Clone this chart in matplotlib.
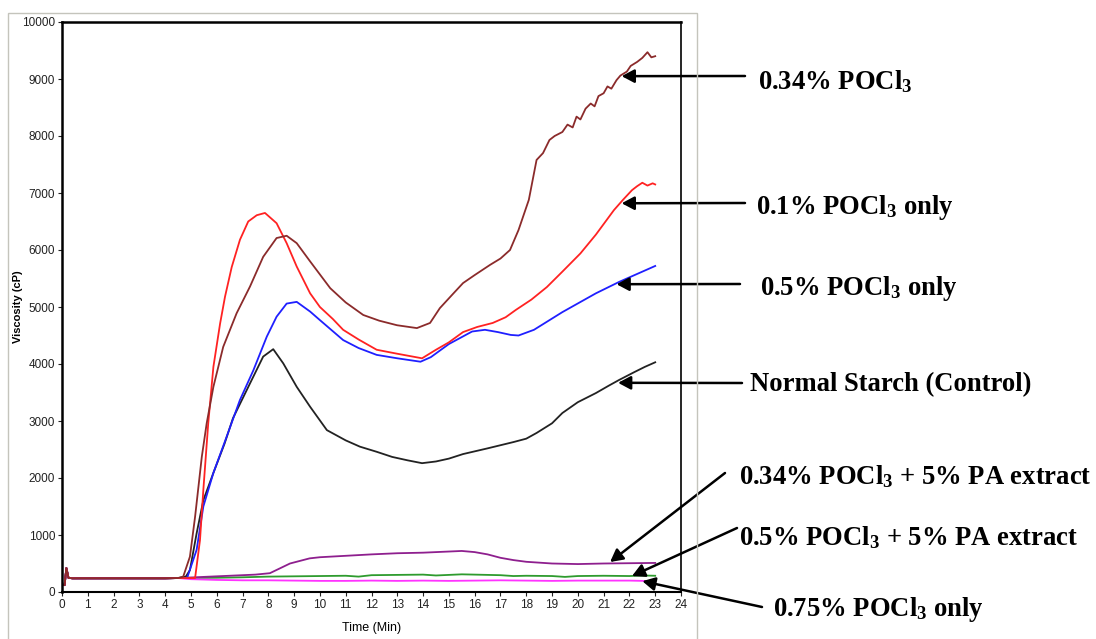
import matplotlib
matplotlib.use("Agg")
import matplotlib.pyplot as plt
from matplotlib.patches import Rectangle

plt.rcParams["mathtext.fontset"] = "custom"
plt.rcParams["mathtext.rm"] = "Liberation Serif:bold"
plt.rcParams["mathtext.it"] = "Liberation Serif:bold"
plt.rcParams["mathtext.bf"] = "Liberation Serif:bold"

TICK_FONT = "Liberation Sans"

# Viscosity curves (cP) against time (min), read point by point
start_t = [0, 0.1, 0.17, 0.25, 0.4, 1, 2, 3, 4, 4.5]
start_v = [130, 120, 420, 250, 240, 240, 240, 240, 240, 245]

control_t = start_t + [4.8, 4.96, 5.22, 5.48, 5.87, 6.3, 6.63, 7.29, 7.8, 8.19, 8.58, 9.1,
                       9.62, 10.27, 11.0, 11.55, 12.2, 12.8, 13.4, 13.96, 14.5, 15.0,
                       15.55, 16.5, 17.5, 18.0, 18.4, 19.0, 19.4, 20.0, 20.7, 21.2,
                       21.6, 22.2, 22.6, 23.0]
control_v = start_v + [270, 385, 1030, 1610, 2090, 2600, 3050, 3660, 4130, 4260, 4010, 3600,
                       3250, 2840, 2660, 2550, 2460, 2370, 2310, 2260, 2290, 2340,
                       2420, 2520, 2630, 2690, 2790, 2960, 3140, 3330, 3490, 3620,
                       3720, 3860, 3950, 4030]

pocl_01_t = start_t + [4.9, 5.16, 5.35, 5.48, 5.67, 5.87, 6.13, 6.32, 6.58, 6.9, 7.22, 7.55,
                       7.87, 8.32, 8.71, 9.1, 9.62, 10.0, 10.5, 10.9, 11.5, 12.2, 13.0,
                       13.96, 14.5, 15.0, 15.55, 16.1, 16.7, 17.2, 17.6, 18.2, 18.8,
                       19.4, 20.1, 20.7, 21.4, 21.75, 22.1, 22.3, 22.5, 22.7, 22.9, 23.0]
pocl_01_v = start_v + [245, 245, 910, 1790, 2960, 3950, 4710, 5180, 5700, 6180, 6500, 6610,
                       6650, 6470, 6120, 5710, 5240, 5000, 4790, 4600, 4430, 4250, 4180,
                       4100, 4250, 4380, 4560, 4650, 4720, 4820, 4950, 5130, 5350,
                       5620, 5940, 6270, 6700, 6880, 7050, 7120, 7180, 7130, 7170, 7150]

pocl_05_t = start_t + [4.85, 5.22, 5.48, 5.87, 6.38, 6.9, 7.42, 7.94, 8.32, 8.71, 9.1, 9.62,
                       10.0, 10.9, 11.5, 12.2, 13.0, 13.9, 14.3, 15.0, 15.9, 16.4, 16.9,
                       17.4, 17.7, 18.3, 19.4, 20.7, 21.6, 22.3, 23.0]
pocl_05_v = start_v + [245, 740, 1500, 2090, 2720, 3370, 3890, 4480, 4830, 5060, 5090, 4920,
                       4770, 4420, 4280, 4160, 4100, 4040, 4120, 4350, 4570, 4600, 4560,
                       4510, 4500, 4600, 4910, 5240, 5440, 5580, 5720]

pocl_034_t = start_t + [4.7, 4.96, 5.16, 5.42, 5.61, 5.87, 6.25, 6.77, 7.29, 7.8, 8.32, 8.71,
                        9.1, 9.62, 10.4, 11.0, 11.68, 12.3, 12.99, 13.76, 14.27, 14.65,
                        15.2, 15.55, 16.0, 16.6, 17.0, 17.37, 17.7, 18.1, 18.4, 18.65,
                        18.9, 19.1, 19.4, 19.6, 19.8, 19.95, 20.1, 20.3, 20.5, 20.65,
                        20.8, 21.0, 21.15, 21.3, 21.5, 21.65, 21.9, 22.05, 22.3, 22.5,
                        22.7, 22.85, 23.0]
pocl_034_v = start_v + [270, 620, 1320, 2370, 2960, 3600, 4300, 4890, 5360, 5880, 6210, 6250,
                        6120, 5800, 5330, 5080, 4860, 4760, 4680, 4630, 4720, 4980,
                        5250, 5420, 5560, 5740, 5850, 6000, 6350, 6880, 7580, 7700,
                        7930, 8000, 8070, 8200, 8150, 8340, 8290, 8480, 8570, 8520,
                        8700, 8750, 8870, 8830, 8980, 9060, 9130, 9230, 9300, 9370,
                        9470, 9380, 9400]

pa_034_t = start_t + [5, 6, 7, 7.5, 8.06, 8.84, 9.6, 10, 11, 12, 13, 14, 15, 15.5, 16,
                      16.5, 17, 17.5, 18, 19, 20, 21, 22, 23]
pa_034_v = start_v + [255, 275, 295, 305, 330, 500, 590, 610, 635, 660, 680, 690, 710,
                      720, 700, 660, 600, 560, 530, 500, 490, 500, 505, 510]

pa_05_t = start_t + [5, 6, 7, 8, 9, 10, 11, 11.5, 12, 13, 14, 14.5, 15, 15.5, 16, 17, 17.5,
                     18, 19, 19.5, 20, 21, 22, 22.5, 23]
pa_05_v = start_v + [245, 250, 258, 270, 275, 280, 285, 270, 295, 300, 305, 290, 300, 310,
                     305, 295, 280, 285, 280, 265, 280, 285, 280, 290, 285]

pocl_075_t = start_t + [5, 6, 7, 8, 9, 10, 11, 12, 13, 14, 15, 16, 17, 18, 19, 20, 21,
                        22, 22.5, 23]
pocl_075_v = start_v + [225, 212, 205, 205, 200, 195, 195, 200, 195, 200, 195, 200, 205,
                        200, 195, 200, 200, 200, 195, 190]

x_ticks = list(range(0, 25))
y_ticks = list(range(0, 10001, 1000))

series = [
    (pa_05_t, pa_05_v, "#2e9b2e"),
    (pocl_075_t, pocl_075_v, "#ff33ff"),
    (pa_034_t, pa_034_v, "#8e1f8e"),
    (control_t, control_v, "#222222"),
    (pocl_05_t, pocl_05_v, "#1f1fff"),
    (pocl_01_t, pocl_01_v, "#ff2222"),
    (pocl_034_t, pocl_034_v, "#8b2b2b"),
]

# label text, label position (px from top-left), arrow start (px), arrow tip (data)
labels = [
    ("0.34% POCl$_3$", (758, 82), (745, 76), (21.7, 9050)),
    ("0.1% POCl$_3$ only", (756, 207), (745, 203), (21.7, 6820)),
    ("0.5% POCl$_3$ only", (760, 288), (740, 284), (21.5, 5400)),
    ("Normal Starch (Control)", (750, 385), (742, 383), (21.56, 3670)),
    ("0.34% POCl$_3$ + 5% PA extract", (739, 477), (725, 473), (21.25, 526)),
    ("0.5% POCl$_3$ + 5% PA extract", (739, 538), (737, 528), (22.1, 280)),
    ("0.75% POCl$_3$ only", (773, 610), (762, 607), (22.5, 190)),
]

W, H = 1096, 639
fig = plt.figure(figsize=(W / 100, H / 100), dpi=100)
ax = fig.add_axes([62 / W, 1 - 592 / H, (681 - 62) / W, (592 - 22) / H])

for t, v, c in series:
    ax.plot(t, v, color=c, lw=1.3)

ax.set_xlim(0, 24)
ax.set_ylim(0, 10000)
ax.set_xticks(x_ticks)
ax.set_yticks(y_ticks)
ax.tick_params(length=3, width=0.8, labelsize=8.5, colors="#222222", pad=2)
for lab in ax.get_xticklabels() + ax.get_yticklabels():
    lab.set_family(TICK_FONT)
ax.set_xlabel("Time (Min)", fontsize=9, family=TICK_FONT)
ax.xaxis.set_label_coords(0.5, -(628 - 592) / 570, transform=ax.transAxes)
ax.xaxis.label.set_va("center")
ax.set_ylabel("Viscosity (cP)", fontsize=8, fontweight="bold", family=TICK_FONT)
ax.yaxis.set_label_coords(-(62 - 18) / 619, 0.5, transform=ax.transAxes)
ax.yaxis.label.set_va("center")

ax.spines["left"].set_linewidth(1.8)
ax.spines["top"].set_linewidth(1.8)
ax.spines["right"].set_linewidth(1.2)
ax.spines["bottom"].set_linewidth(1.5)

# light outer frame around the chart area
fig.add_artist(Rectangle((8 / W, -0.05), (697 - 8) / W, 1.05 - 13 / H,
                         transform=fig.transFigure, fill=False,
                         edgecolor="#c4c4bc", lw=1.0))

for text, (tx, ty), (sx, sy), tip in labels:
    fig.text(tx / W, 1 - ty / H, text, fontsize=19.2, fontweight="bold",
             family="Liberation Serif", va="center", ha="left")
    ax.annotate("", xy=tip, xycoords="data", xytext=(sx, H - sy),
                textcoords="figure pixels", annotation_clip=False,
                arrowprops=dict(arrowstyle="-|>,head_length=0.75,head_width=0.4",
                                mutation_scale=10, color="black", lw=1.8,
                                shrinkA=0, shrinkB=0))

fig.savefig("out.png", dpi=100)
